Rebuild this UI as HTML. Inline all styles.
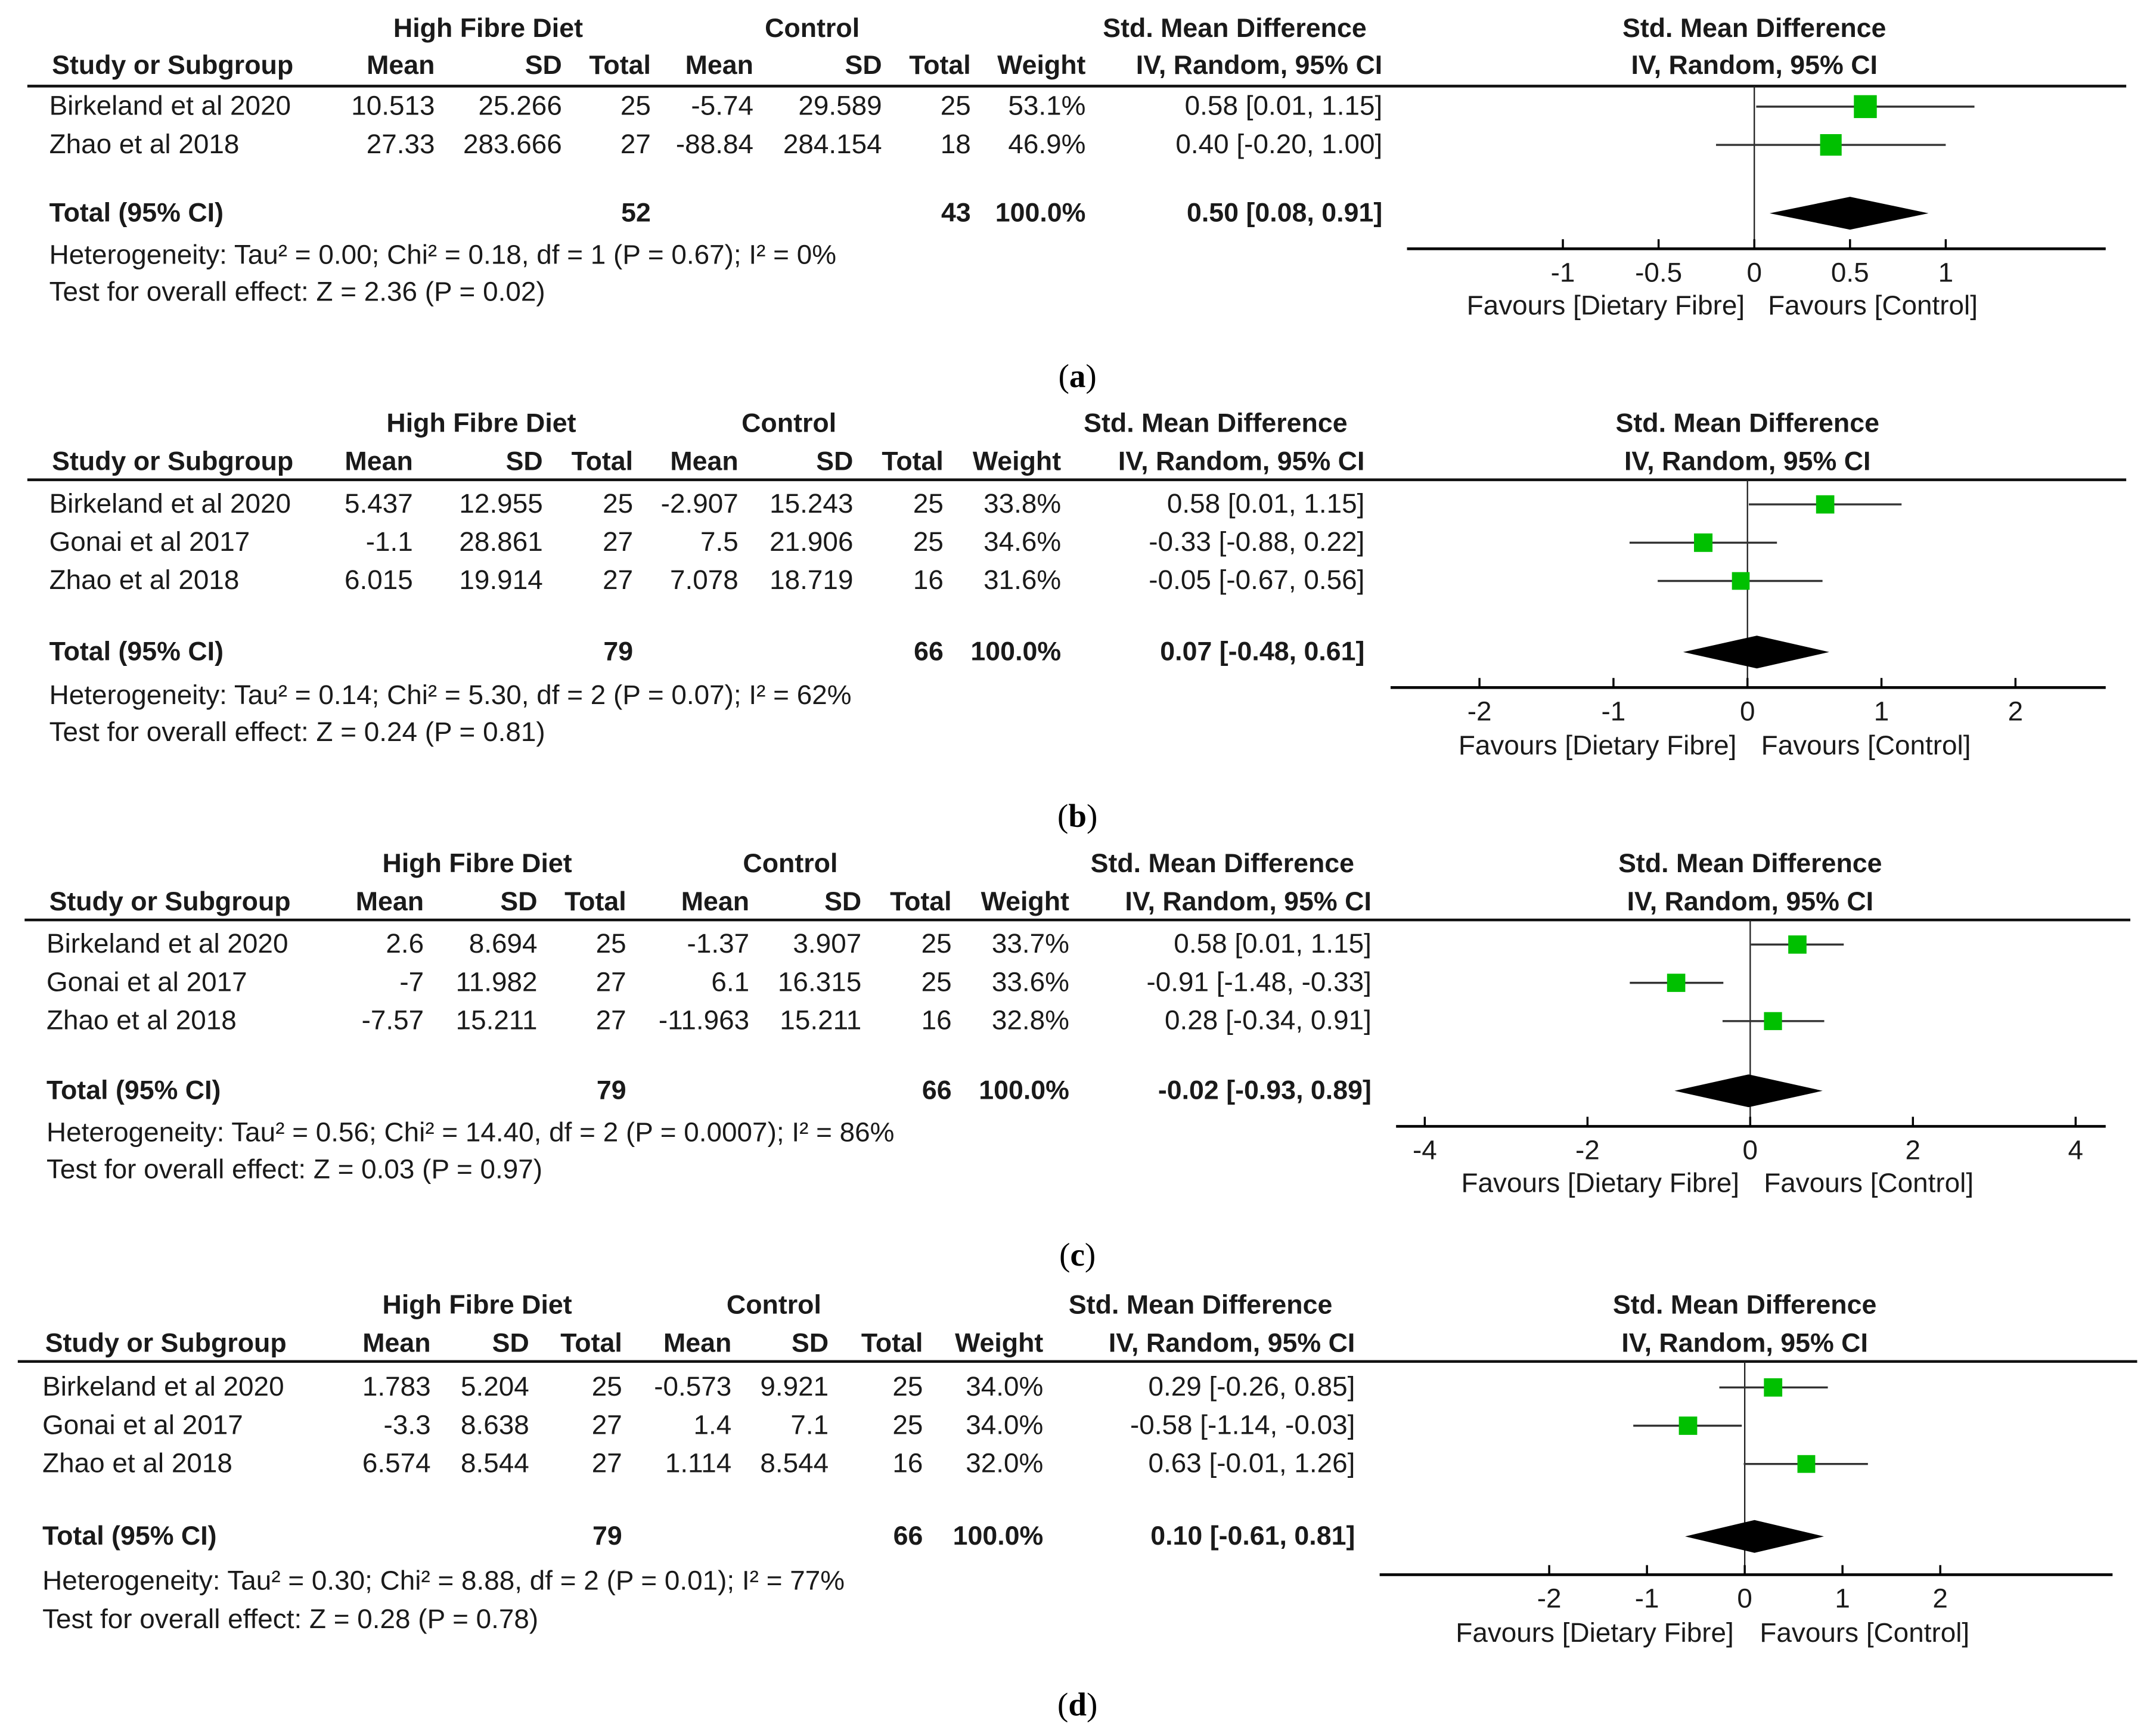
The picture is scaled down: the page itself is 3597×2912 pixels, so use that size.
<!DOCTYPE html>
<html><head><meta charset="utf-8"><style>
html,body{margin:0;padding:0;background:#fff;}
svg{display:block;}
text{font-family:"Liberation Sans",Arial,sans-serif;font-size:20px;fill:#1a1a1a;}
.b{font-weight:bold;font-size:19.5px;}
.e{text-anchor:end;}
.m{text-anchor:middle;}
.lab{font-family:"Liberation Serif",serif;font-size:24px;fill:#000;}
</style></head><body>
<svg id="fig" width="3597" height="2912" viewBox="0 0 1568 1270" preserveAspectRatio="none" xmlns="http://www.w3.org/2000/svg">
<rect width="1568" height="1270" fill="#fff"/>

<!-- Panel A -->
<g>
<text class="b m" x="357" y="27">High Fibre Diet</text>
<text class="b m" x="594" y="27">Control</text>
<text class="b m" x="903" y="27">Std. Mean Difference</text>
<text class="b m" x="1283" y="27">Std. Mean Difference</text>
<text class="b" x="38" y="54">Study or Subgroup</text>
<text class="b e" x="318" y="54">Mean</text><text class="b e" x="411" y="54">SD</text><text class="b e" x="476" y="54">Total</text>
<text class="b e" x="551" y="54">Mean</text><text class="b e" x="645" y="54">SD</text><text class="b e" x="710" y="54">Total</text>
<text class="b e" x="794" y="54">Weight</text><text class="b e" x="1011" y="54">IV, Random, 95% CI</text>
<text class="b m" x="1283" y="54">IV, Random, 95% CI</text>
<line x1="20" y1="63" x2="1555" y2="63" stroke="#111" stroke-width="2"/>
<text x="36" y="84">Birkeland et al 2020</text><text class="e" x="318" y="84">10.513</text><text class="e" x="411" y="84">25.266</text><text class="e" x="476" y="84">25</text><text class="e" x="551" y="84">-5.74</text><text class="e" x="645" y="84">29.589</text><text class="e" x="710" y="84">25</text><text class="e" x="794" y="84">53.1%</text><text class="e" x="1011" y="84">0.58 [0.01, 1.15]</text>
<text x="36" y="112">Zhao et al 2018</text><text class="e" x="318" y="112">27.33</text><text class="e" x="411" y="112">283.666</text><text class="e" x="476" y="112">27</text><text class="e" x="551" y="112">-88.84</text><text class="e" x="645" y="112">284.154</text><text class="e" x="710" y="112">18</text><text class="e" x="794" y="112">46.9%</text><text class="e" x="1011" y="112">0.40 [-0.20, 1.00]</text>
<text class="b" x="36" y="162">Total (95% CI)</text><text class="b e" x="476" y="162">52</text><text class="b e" x="710" y="162">43</text><text class="b e" x="794" y="162">100.0%</text><text class="b e" x="1011" y="162">0.50 [0.08, 0.91]</text>
<text x="36" y="193">Heterogeneity: Tau² = 0.00; Chi² = 0.18, df = 1 (P = 0.67); I² = 0%</text>
<text x="36" y="220">Test for overall effect: Z = 2.36 (P = 0.02)</text>
<text x="1276" y="230" class="e">Favours [Dietary Fibre]</text><text x="1293" y="230">Favours [Control]</text>
<text class="lab m" x="788" y="283">(<tspan font-weight="bold">a</tspan>)</text>
</g>

<!-- Panel B -->
<g>
<text class="b m" x="352" y="316">High Fibre Diet</text>
<text class="b m" x="577" y="316">Control</text>
<text class="b m" x="889" y="316">Std. Mean Difference</text>
<text class="b m" x="1278" y="316">Std. Mean Difference</text>
<text class="b" x="38" y="344">Study or Subgroup</text>
<text class="b e" x="302" y="344">Mean</text><text class="b e" x="397" y="344">SD</text><text class="b e" x="463" y="344">Total</text>
<text class="b e" x="540" y="344">Mean</text><text class="b e" x="624" y="344">SD</text><text class="b e" x="690" y="344">Total</text>
<text class="b e" x="776" y="344">Weight</text><text class="b e" x="998" y="344">IV, Random, 95% CI</text>
<text class="b m" x="1278" y="344">IV, Random, 95% CI</text>
<line x1="20" y1="351" x2="1555" y2="351" stroke="#111" stroke-width="2"/>
<text x="36" y="375">Birkeland et al 2020</text><text class="e" x="302" y="375">5.437</text><text class="e" x="397" y="375">12.955</text><text class="e" x="463" y="375">25</text><text class="e" x="540" y="375">-2.907</text><text class="e" x="624" y="375">15.243</text><text class="e" x="690" y="375">25</text><text class="e" x="776" y="375">33.8%</text><text class="e" x="998" y="375">0.58 [0.01, 1.15]</text>
<text x="36" y="403">Gonai et al 2017</text><text class="e" x="302" y="403">-1.1</text><text class="e" x="397" y="403">28.861</text><text class="e" x="463" y="403">27</text><text class="e" x="540" y="403">7.5</text><text class="e" x="624" y="403">21.906</text><text class="e" x="690" y="403">25</text><text class="e" x="776" y="403">34.6%</text><text class="e" x="998" y="403">-0.33 [-0.88, 0.22]</text>
<text x="36" y="431">Zhao et al 2018</text><text class="e" x="302" y="431">6.015</text><text class="e" x="397" y="431">19.914</text><text class="e" x="463" y="431">27</text><text class="e" x="540" y="431">7.078</text><text class="e" x="624" y="431">18.719</text><text class="e" x="690" y="431">16</text><text class="e" x="776" y="431">31.6%</text><text class="e" x="998" y="431">-0.05 [-0.67, 0.56]</text>
<text class="b" x="36" y="483">Total (95% CI)</text><text class="b e" x="463" y="483">79</text><text class="b e" x="690" y="483">66</text><text class="b e" x="776" y="483">100.0%</text><text class="b e" x="998" y="483">0.07 [-0.48, 0.61]</text>
<text x="36" y="515">Heterogeneity: Tau² = 0.14; Chi² = 5.30, df = 2 (P = 0.07); I² = 62%</text>
<text x="36" y="542">Test for overall effect: Z = 0.24 (P = 0.81)</text>
<text x="1270" y="552" class="e">Favours [Dietary Fibre]</text><text x="1288" y="552">Favours [Control]</text>
<text class="lab m" x="788" y="605">(<tspan font-weight="bold">b</tspan>)</text>
</g>

<!-- Panel C -->
<g>
<text class="b m" x="349" y="638">High Fibre Diet</text>
<text class="b m" x="578" y="638">Control</text>
<text class="b m" x="894" y="638">Std. Mean Difference</text>
<text class="b m" x="1280" y="638">Std. Mean Difference</text>
<text class="b" x="36" y="666">Study or Subgroup</text>
<text class="b e" x="310" y="666">Mean</text><text class="b e" x="393" y="666">SD</text><text class="b e" x="458" y="666">Total</text>
<text class="b e" x="548" y="666">Mean</text><text class="b e" x="630" y="666">SD</text><text class="b e" x="696" y="666">Total</text>
<text class="b e" x="782" y="666">Weight</text><text class="b e" x="1003" y="666">IV, Random, 95% CI</text>
<text class="b m" x="1280" y="666">IV, Random, 95% CI</text>
<line x1="18" y1="673" x2="1558" y2="673" stroke="#111" stroke-width="2"/>
<text x="34" y="697">Birkeland et al 2020</text><text class="e" x="310" y="697">2.6</text><text class="e" x="393" y="697">8.694</text><text class="e" x="458" y="697">25</text><text class="e" x="548" y="697">-1.37</text><text class="e" x="630" y="697">3.907</text><text class="e" x="696" y="697">25</text><text class="e" x="782" y="697">33.7%</text><text class="e" x="1003" y="697">0.58 [0.01, 1.15]</text>
<text x="34" y="725">Gonai et al 2017</text><text class="e" x="310" y="725">-7</text><text class="e" x="393" y="725">11.982</text><text class="e" x="458" y="725">27</text><text class="e" x="548" y="725">6.1</text><text class="e" x="630" y="725">16.315</text><text class="e" x="696" y="725">25</text><text class="e" x="782" y="725">33.6%</text><text class="e" x="1003" y="725">-0.91 [-1.48, -0.33]</text>
<text x="34" y="753">Zhao et al 2018</text><text class="e" x="310" y="753">-7.57</text><text class="e" x="393" y="753">15.211</text><text class="e" x="458" y="753">27</text><text class="e" x="548" y="753">-11.963</text><text class="e" x="630" y="753">15.211</text><text class="e" x="696" y="753">16</text><text class="e" x="782" y="753">32.8%</text><text class="e" x="1003" y="753">0.28 [-0.34, 0.91]</text>
<text class="b" x="34" y="804">Total (95% CI)</text><text class="b e" x="458" y="804">79</text><text class="b e" x="696" y="804">66</text><text class="b e" x="782" y="804">100.0%</text><text class="b e" x="1003" y="804">-0.02 [-0.93, 0.89]</text>
<text x="34" y="835">Heterogeneity: Tau² = 0.56; Chi² = 14.40, df = 2 (P = 0.0007); I² = 86%</text>
<text x="34" y="862">Test for overall effect: Z = 0.03 (P = 0.97)</text>
<text x="1272" y="872" class="e">Favours [Dietary Fibre]</text><text x="1290" y="872">Favours [Control]</text>
<text class="lab m" x="788" y="926">(<tspan font-weight="bold">c</tspan>)</text>
</g>

<!-- Panel D -->
<g>
<text class="b m" x="349" y="961">High Fibre Diet</text>
<text class="b m" x="566" y="961">Control</text>
<text class="b m" x="878" y="961">Std. Mean Difference</text>
<text class="b m" x="1276" y="961">Std. Mean Difference</text>
<text class="b" x="33" y="989">Study or Subgroup</text>
<text class="b e" x="315" y="989">Mean</text><text class="b e" x="387" y="989">SD</text><text class="b e" x="455" y="989">Total</text>
<text class="b e" x="535" y="989">Mean</text><text class="b e" x="606" y="989">SD</text><text class="b e" x="675" y="989">Total</text>
<text class="b e" x="763" y="989">Weight</text><text class="b e" x="991" y="989">IV, Random, 95% CI</text>
<text class="b m" x="1276" y="989">IV, Random, 95% CI</text>
<line x1="13" y1="996" x2="1563" y2="996" stroke="#111" stroke-width="2"/>
<text x="31" y="1021">Birkeland et al 2020</text><text class="e" x="315" y="1021">1.783</text><text class="e" x="387" y="1021">5.204</text><text class="e" x="455" y="1021">25</text><text class="e" x="535" y="1021">-0.573</text><text class="e" x="606" y="1021">9.921</text><text class="e" x="675" y="1021">25</text><text class="e" x="763" y="1021">34.0%</text><text class="e" x="991" y="1021">0.29 [-0.26, 0.85]</text>
<text x="31" y="1049">Gonai et al 2017</text><text class="e" x="315" y="1049">-3.3</text><text class="e" x="387" y="1049">8.638</text><text class="e" x="455" y="1049">27</text><text class="e" x="535" y="1049">1.4</text><text class="e" x="606" y="1049">7.1</text><text class="e" x="675" y="1049">25</text><text class="e" x="763" y="1049">34.0%</text><text class="e" x="991" y="1049">-0.58 [-1.14, -0.03]</text>
<text x="31" y="1077">Zhao et al 2018</text><text class="e" x="315" y="1077">6.574</text><text class="e" x="387" y="1077">8.544</text><text class="e" x="455" y="1077">27</text><text class="e" x="535" y="1077">1.114</text><text class="e" x="606" y="1077">8.544</text><text class="e" x="675" y="1077">16</text><text class="e" x="763" y="1077">32.0%</text><text class="e" x="991" y="1077">0.63 [-0.01, 1.26]</text>
<text class="b" x="31" y="1130">Total (95% CI)</text><text class="b e" x="455" y="1130">79</text><text class="b e" x="675" y="1130">66</text><text class="b e" x="763" y="1130">100.0%</text><text class="b e" x="991" y="1130">0.10 [-0.61, 0.81]</text>
<text x="31" y="1163">Heterogeneity: Tau² = 0.30; Chi² = 8.88, df = 2 (P = 0.01); I² = 77%</text>
<text x="31" y="1191">Test for overall effect: Z = 0.28 (P = 0.78)</text>
<text x="1268" y="1201" class="e">Favours [Dietary Fibre]</text><text x="1287" y="1201">Favours [Control]</text>
<text class="lab m" x="788" y="1255">(<tspan font-weight="bold">d</tspan>)</text>
</g>

<g id="plots"></g>
</svg>
<script>
// Panel A data
const aEst = [0.58, 0.40];
const aLo = [0.01, -0.20];
const aHi = [1.15, 1.00];
const aWeight = [53.1, 46.9];
const aTotal = [0.50, 0.08, 0.91];
const aTicks = [-1, -0.5, 0, 0.5, 1];
// Panel B data
const bEst = [0.58, -0.33, -0.05];
const bLo = [0.01, -0.88, -0.67];
const bHi = [1.15, 0.22, 0.56];
const bWeight = [33.8, 34.6, 31.6];
const bTotal = [0.07, -0.48, 0.61];
const bTicks = [-2, -1, 0, 1, 2];
// Panel C data
const cEst = [0.58, -0.91, 0.28];
const cLo = [0.01, -1.48, -0.34];
const cHi = [1.15, -0.33, 0.91];
const cWeight = [33.7, 33.6, 32.8];
const cTotal = [-0.02, -0.93, 0.89];
const cTicks = [-4, -2, 0, 2, 4];
// Panel D data
const dEst = [0.29, -0.58, 0.63];
const dLo = [-0.26, -1.14, -0.01];
const dHi = [0.85, -0.03, 1.26];
const dWeight = [34.0, 34.0, 32.0];
const dTotal = [0.10, -0.61, 0.81];
const dTicks = [-2, -1, 0, 1, 2];

const NS = 'http://www.w3.org/2000/svg';
const root = document.getElementById('plots');
function mk(tag, attrs, parent) {
  const el = document.createElementNS(NS, tag);
  for (const k in attrs) el.setAttribute(k, attrs[k]);
  parent.appendChild(el);
  return el;
}
function drawPanel(id, est, lo, hi, wt, tot, ticks, cfg) {
  const g = mk('g', {}, root);
  
  
  const x = v => cfg.zero + v * cfg.unit;
  const zl = mk('line', {x1: x(0), x2: x(0), y1: cfg.top, y2: cfg.axisY, stroke: '#222', 'stroke-width': 1}, g);
  
  
  const ax = mk('line', {x1: cfg.ax0, x2: cfg.ax1, y1: cfg.axisY, y2: cfg.axisY, stroke: '#000', 'stroke-width': 2}, g);
  
  
  ticks.forEach(t => {
    const tk = mk('line', {x1: x(t), x2: x(t), y1: cfg.axisY - 7, y2: cfg.axisY, stroke: '#000', 'stroke-width': 1.5}, g);
    
    
    const tl = mk('text', {x: x(t), y: cfg.axisY + 24, 'text-anchor': 'middle'}, g);
    tl.textContent = String(t);
    
    
  });
  est.forEach((e, i) => {
    const y = cfg.rows[i] - 6;
    const ci = mk('line', {x1: x(lo[i]), x2: x(hi[i]), y1: y, y2: y, stroke: '#333', 'stroke-width': 1.5}, g);
    
    
    const s = 2.3 * Math.sqrt(wt[i]);
    const sq = mk('rect', {x: x(e) - s / 2, y: y - s / 2, width: s, height: s, fill: '#00c000'}, g);
    
    
  });
  const dy = cfg.totalY - 6;
  const pts = [[x(tot[1]), dy], [x(tot[0]), dy - 12], [x(tot[2]), dy], [x(tot[0]), dy + 12]].map(p => p.join(',')).join(' ');
  const dm = mk('polygon', {points: pts, fill: '#000'}, g);
  
  
}
drawPanel('a', aEst, aLo, aHi, aWeight, aTotal, aTicks, {zero: 1283, unit: 140, top: 63, axisY: 182, ax0: 1029, ax1: 1540, rows: [84, 112], totalY: 162});
drawPanel('b', bEst, bLo, bHi, bWeight, bTotal, bTicks, {zero: 1278, unit: 98, top: 351, axisY: 503, ax0: 1017, ax1: 1540, rows: [375, 403, 431], totalY: 483});
drawPanel('c', cEst, cLo, cHi, cWeight, cTotal, cTicks, {zero: 1280, unit: 59.5, top: 673, axisY: 824, ax0: 1021, ax1: 1540, rows: [697, 725, 753], totalY: 804});
drawPanel('d', dEst, dLo, dHi, dWeight, dTotal, dTicks, {zero: 1276, unit: 71.5, top: 996, axisY: 1152, ax0: 1009, ax1: 1545, rows: [1021, 1049, 1077], totalY: 1130});
</script>
</body></html>
